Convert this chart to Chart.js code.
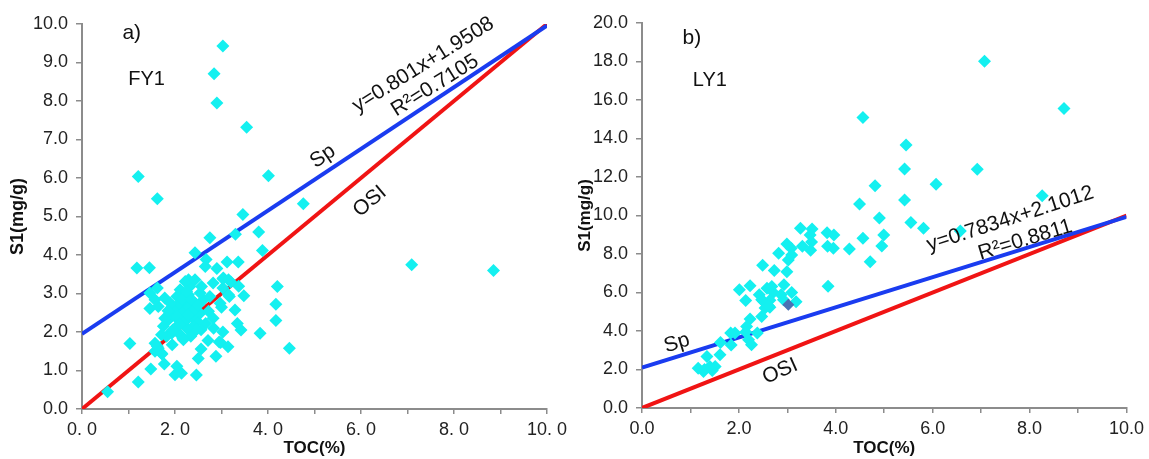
<!DOCTYPE html>
<html>
<head>
<meta charset="utf-8">
<script src="https://cdn.jsdelivr.net/npm/chart.js@4.4.0/dist/chart.umd.min.js"></script>
<style>
  body { margin: 0; background: #fff; }
  .panel { position: absolute; top: 0; }
</style>
</head>
<body>
<div class="panel" style="left:0"><canvas id="fy1Chart" width="575" height="459"></canvas></div>
<div class="panel" style="left:575px"><canvas id="ly1Chart" width="574" height="459"></canvas></div>
<script>
// FY1 samples: TOC(%) vs S1(mg/g)
const fy1Toc = [3.03, 2.84, 2.90, 3.54, 1.21, 1.62, 4.01, 3.46, 4.76, 3.80, 3.88, 7.09, 8.85, 4.20, 4.17, 4.17, 3.83, 4.46,
  1.18, 1.45, 2.75, 3.30, 2.43, 2.67, 2.65, 2.90, 3.12, 3.36, 3.03, 3.20, 3.37, 3.48,
  3.29, 3.34, 3.42, 3.03, 2.98, 3.14, 2.88, 2.71, 2.83, 2.66, 2.56, 2.50, 2.46, 2.14, 2.00, 2.04, 1.77, 1.48, 1.21, 1.03, 0.55,
  1.57, 1.72, 1.62, 1.94, 2.17, 2.38, 2.56, 2.48, 2.39,
  1.46, 1.46, 1.62, 2.82, 3.03, 3.17, 2.97, 3.00, 2.29, 3.04, 3.15,
  1.82, 2.34, 2.46, 2.25, 1.75, 1.86, 2.07, 1.89, 2.14, 2.54, 2.72, 1.96, 2.22, 2.43, 2.61, 1.64, 1.57, 1.78, 2.04, 2.29,
  2.54, 2.11, 2.32, 2.22, 2.57, 2.43, 1.96, 2.04, 2.11, 1.93, 1.71, 2.36, 2.25, 1.78, 2.75, 3.15, 2.82, 1.71, 1.64, 1.57,
  2.18, 2.95, 2.00, 2.10, 2.20, 2.30, 2.15, 1.90, 2.05, 2.35, 2.25, 1.85, 2.40, 2.10, 1.95, 2.28, 2.50];
const fy1S1 = [9.43, 8.71, 7.95, 7.32, 6.04, 5.46, 6.06, 5.05, 5.33, 4.60, 4.12, 3.75, 3.60, 3.18, 2.72, 2.30, 1.97, 1.58,
  3.66, 3.67, 4.45, 4.54, 4.06, 3.88, 3.70, 3.65, 3.82, 3.82, 3.38, 3.30, 3.19, 2.94,
  2.57, 2.22, 2.05, 2.00, 1.73, 1.62, 1.37, 1.78, 2.10, 2.22, 1.56, 1.31, 0.88, 0.93, 0.89, 1.11, 1.17, 1.04, 0.70, 1.70, 0.45,
  1.50, 1.43, 1.63, 1.67, 1.84, 1.99, 2.06, 2.28, 2.15,
  3.01, 2.61, 3.14, 3.27, 3.14, 2.92, 2.75, 2.64, 3.36, 3.40, 3.36,
  1.89, 1.89, 2.06, 2.10, 2.15, 2.32, 2.32, 2.49, 2.49, 2.49, 2.54, 2.66, 2.71, 2.75, 2.84, 2.66, 2.84, 2.88, 2.92, 2.97,
  3.01, 3.10, 3.18, 3.31, 3.18, 3.36, 2.45, 2.15, 1.93, 1.97, 1.93, 2.41, 2.32, 2.36, 2.92, 2.97, 2.36, 1.45, 1.58, 1.71,
  1.80, 1.74, 2.60, 2.75, 2.55, 2.65, 2.85, 2.75, 2.40, 2.85, 3.05, 2.55, 2.55, 2.20, 2.05, 2.45, 2.70];

// LY1 samples
const ly1Toc = [7.07, 8.71, 4.56, 5.45, 5.42, 6.92, 4.81, 6.07, 4.49, 5.42, 8.26, 4.90, 5.55, 5.81, 6.57, 4.99, 4.95, 4.56, 4.28, 4.71,
  3.27, 3.51, 3.82, 3.96, 3.31, 3.50, 3.48, 3.83, 3.95, 3.47, 2.99, 3.08, 2.82, 3.02, 3.09, 2.73, 2.99, 2.49, 3.84,
  2.01, 2.23, 2.14, 2.42, 2.58, 2.68, 2.93, 3.09, 2.87, 2.71, 2.51, 2.64, 2.54, 2.47, 2.64, 3.18, 2.47, 2.92, 2.61,
  2.23, 2.16, 2.38, 2.14, 2.20, 2.26, 1.92, 1.83, 1.84, 1.62, 1.61, 1.34, 1.51, 1.45, 1.16, 1.27, 1.40, 1.29];
const ly1S1 = [18.01, 15.56, 15.09, 13.66, 12.41, 12.40, 11.54, 11.62, 10.60, 10.80, 11.03, 9.87, 9.63, 9.34, 9.20, 8.99, 8.42, 8.82, 8.26, 7.60,
  9.34, 9.30, 9.10, 8.99, 8.40, 8.62, 8.19, 8.40, 8.30, 8.99, 8.52, 8.30, 8.04, 7.69, 7.95, 7.14, 7.08, 7.42, 6.33,
  6.14, 6.35, 5.58, 5.88, 6.22, 6.31, 6.40, 6.00, 5.88, 6.00, 5.53, 5.24, 5.19, 4.75, 5.60, 5.52, 5.62, 5.62, 5.31,
  4.62, 4.23, 3.89, 3.95, 3.55, 3.28, 3.89, 3.89, 3.27, 3.40, 2.76, 2.68, 2.16, 1.95, 2.07, 1.90, 2.16, 2.00];
const ly1OddToc = [3.02];
const ly1OddS1 = [5.36];

// trend lines (end points)
const lineToc = [0, 10];
const fy1SpLine = [1.95, 9.96];
const fy1OsiLine = [0, 10];
const ly1SpLine = [2.10, 9.93];
const ly1OsiLine = [0, 10];

// tick labels
const fy1XLabels = ['0. 0', '', '2. 0', '', '4. 0', '', '6. 0', '', '8. 0', '', '10. 0'];
const ly1XLabels = ['0.0', '', '2.0', '', '4.0', '', '6.0', '', '8.0', '', '10.0'];

const pairs = (xs, ys) => xs.map((x, i) => ({ x: x, y: ys[i] }));

const FONT = '"Liberation Sans", Arial, sans-serif';

// text notes in data coordinates
const notesPlugin = {
  id: 'notes',
  afterDatasetsDraw(chart, args, opts) {
    const ctx = chart.ctx;
    const xs = chart.scales.x, ys = chart.scales.y;
    (opts.items || []).forEach((n) => {
      ctx.save();
      ctx.translate(xs.getPixelForValue(n.x), ys.getPixelForValue(n.y));
      ctx.rotate(-(n.angle || 0) * Math.PI / 180);
      ctx.font = (n.size || 21) + 'px ' + FONT;
      ctx.fillStyle = '#111';
      ctx.textAlign = 'center';
      ctx.textBaseline = 'middle';
      ctx.fillText(n.text, 0, 0);
      ctx.restore();
    });
  },
};

function makeChart(id, cfg) {
  const axisGrid = { drawOnChartArea: false, drawTicks: true, tickLength: 6, color: '#8c8c8c', lineWidth: 1.5 };
  const axisBorder = { display: true, color: '#8c8c8c', width: 2 };
  const datasets = [
    { type: 'scatter', data: pairs(cfg.toc, cfg.s1), pointStyle: 'rectRot', pointRadius: 6.5,
      backgroundColor: '#14f0f0', borderWidth: 0 },
  ];
  if (cfg.oddToc) {
    datasets.unshift({ type: 'scatter', data: pairs(cfg.oddToc, cfg.oddS1), pointStyle: 'rectRot', pointRadius: 6,
      backgroundColor: '#4a72b4', borderWidth: 0 });
  }
  datasets.push(
    { type: 'line', data: pairs(lineToc, cfg.sp), borderColor: '#1a3cf0', borderWidth: 4, pointRadius: 0, fill: false },
    { type: 'line', data: pairs(lineToc, cfg.osi), borderColor: '#f01414', borderWidth: 4, pointRadius: 0, fill: false }
  );

  return new Chart(document.getElementById(id).getContext('2d'), {
    data: { datasets: datasets },
    options: {
      responsive: false,
      animation: false,
      layout: { padding: cfg.padding },
      plugins: {
        legend: { display: false },
        tooltip: { enabled: false },
        notes: { items: cfg.notes },
      },
      scales: {
        x: {
          type: 'linear', min: 0, max: 10,
          afterFit: (s) => { s.height = cfg.xHeight; },
          grid: Object.assign({}, axisGrid, { tickLength: 5 }),
          border: axisBorder,
          ticks: {
            stepSize: 1, padding: 5, color: '#222', font: { family: FONT, size: 18 },
            maxRotation: 0, autoSkip: false,
            callback: (v) => cfg.xLabels[Math.round(v)] || '',
          },
          title: { display: true, text: 'TOC(%)', color: '#111', padding: 0,
            font: { family: FONT, size: 17, weight: 'bold' } },
        },
        y: {
          type: 'linear', min: 0, max: cfg.yMax,
          afterFit: (s) => { s.width = cfg.yWidth; },
          grid: axisGrid,
          border: axisBorder,
          ticks: {
            stepSize: cfg.yStep, padding: 8, color: '#222', font: { family: FONT, size: 18 },
            callback: (v) => v.toFixed(1),
          },
          title: { display: true, text: 'S1(mg/g)', color: '#111', padding: { top: cfg.yTitlePad, bottom: 0 },
            font: { family: FONT, size: cfg.yTitleSize, weight: 'bold' } },
        },
      },
    },
    plugins: [notesPlugin],
  });
}

makeChart('fy1Chart', {
  toc: fy1Toc, s1: fy1S1, sp: fy1SpLine, osi: fy1OsiLine,
  xLabels: fy1XLabels, yMax: 10, yStep: 1,
  padding: { left: 0, right: 28, top: 24, bottom: 0 }, yWidth: 82, xHeight: 50, yTitlePad: 7, yTitleSize: 18,
  notes: [
    { text: 'a)', x: 1.07, y: 9.77, size: 21 },
    { text: 'FY1', x: 1.39, y: 8.57, size: 20 },
    { text: 'y=0.801x+1.9508', x: 7.34, y: 8.94, angle: 32 },
    { text: 'R\u00b2=0.7105', x: 7.59, y: 8.40, angle: 32 },
    { text: 'Sp', x: 5.18, y: 6.56, angle: 34 },
    { text: 'OSI', x: 6.19, y: 5.39, angle: 40 },
  ],
});

makeChart('ly1Chart', {
  toc: ly1Toc, s1: ly1S1, oddToc: ly1OddToc, oddS1: ly1OddS1, sp: ly1SpLine, osi: ly1OsiLine,
  xLabels: ly1XLabels, yMax: 20, yStep: 2,
  padding: { left: 0, right: 22, top: 23, bottom: 0 }, yWidth: 67, xHeight: 51, yTitlePad: 0, yTitleSize: 17,
  notes: [
    { text: 'b)', x: 1.03, y: 19.19, size: 21 },
    { text: 'LY1', x: 1.40, y: 17.03, size: 20 },
    { text: 'y=0.7834x+2.1012', x: 7.60, y: 9.82, angle: 18 },
    { text: 'R\u00b2=0.8811', x: 7.91, y: 8.73, angle: 17 },
    { text: 'Sp', x: 0.72, y: 3.37, angle: 17 },
    { text: 'OSI', x: 2.85, y: 1.90, angle: 24 },
  ],
});
</script>
</body>
</html>
